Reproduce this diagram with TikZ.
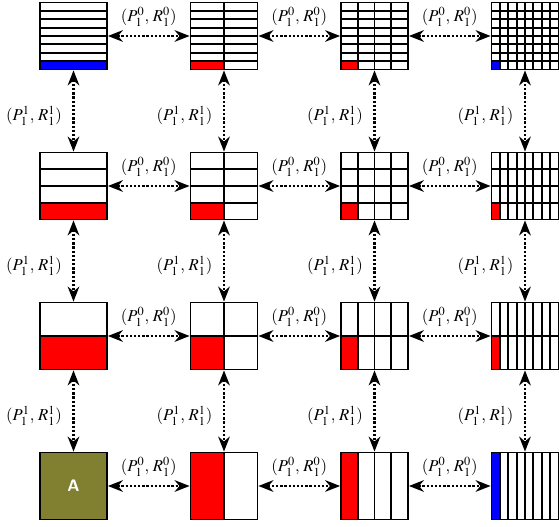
\documentclass[tikz,border=0pt]{standalone}
\usepackage{mathptmx}
\usepackage{tikz}
\usetikzlibrary{arrows.meta, positioning}
\usetikzlibrary{calc}

\definecolor{olivebox}{RGB}{128,128,48}
\tikzset{
  block/.style={draw, line width=1.1pt, minimum size=40.2pt, inner sep=0pt},
  gridline/.style={line width=1.1pt},
  link/.style={{Stealth[length=9pt,width=7pt]}-{Stealth[length=9pt,width=7pt]},
    line width=1.3pt, dash pattern=on 1.4pt off 1.1pt},
}

\begin{document}
\begin{tikzpicture}[x=0.6pt, y=-0.6pt]
\useasboundingbox (0,0) rectangle (559,527);
% blocks: rows split in 8,4,2,1 strips, columns in 1,2,4,8
\foreach \r in {0,...,3}{
  \foreach \c in {0,...,3}{
    \pgfmathsetmacro{\cx}{73.5+150.5*\c}
    \pgfmathsetmacro{\cy}{36+150*\r}
    \pgfmathtruncatemacro{\nr}{8/2^\r}
    \pgfmathtruncatemacro{\nc}{2^\c}
    \def\fillcol{red}
    \ifnum\r=0 \ifnum\c=0 \def\fillcol{blue}\fi \ifnum\c=3 \def\fillcol{blue}\fi\fi
    \ifnum\r=3 \ifnum\c=3 \def\fillcol{blue}\fi \ifnum\c=0 \def\fillcol{olivebox}\fi\fi
    \pgfmathsetmacro{\fx}{\cx-33.5+67/\nc}
    \pgfmathsetmacro{\fy}{\cy+33.5-67/\nr}
    \fill[\fillcol] (\cx-33.5,\cy+33.5) rectangle (\fx,\fy);
    \ifnum\nr>1
      \pgfmathtruncatemacro{\nrm}{\nr-1}
      \foreach \k in {1,...,\nrm}
        \draw[gridline] (\cx-33.5,\cy-33.5+67*\k/\nr) -- (\cx+33.5,\cy-33.5+67*\k/\nr);
    \fi
    \ifnum\nc>1
      \pgfmathtruncatemacro{\ncm}{\nc-1}
      \foreach \k in {1,...,\ncm}
        \draw[gridline] (\cx-33.5+67*\k/\nc,\cy-33.5) -- (\cx-33.5+67*\k/\nc,\cy+33.5);
    \fi
    \node[block] (sq-\r-\c) at (\cx,\cy) {};
  }
}
\node[text=white, font=\sffamily\bfseries] (A) at (sq-3-0) {A};

% horizontal links
\foreach \r in {0,...,3}{
  \foreach \c [evaluate=\c as \cn using int(\c+1)] in {0,1,2}{
    \draw[link] (sq-\r-\c) -- (sq-\r-\cn)
      node[midway, yshift=11.4pt] (h-\r-\c) {$(P_1^0,\,R_1^0)$};
  }
}
% vertical links
\foreach \c in {0,...,3}{
  \foreach \r [evaluate=\r as \rn using int(\r+1)] in {0,1,2}{
    \draw[link] (sq-\r-\c) -- (sq-\rn-\c)
      node[midway, left=3pt, yshift=-3pt] (v-\r-\c) {$(P_1^1,\,R_1^1)$};
  }
}
\end{tikzpicture}
\end{document}
